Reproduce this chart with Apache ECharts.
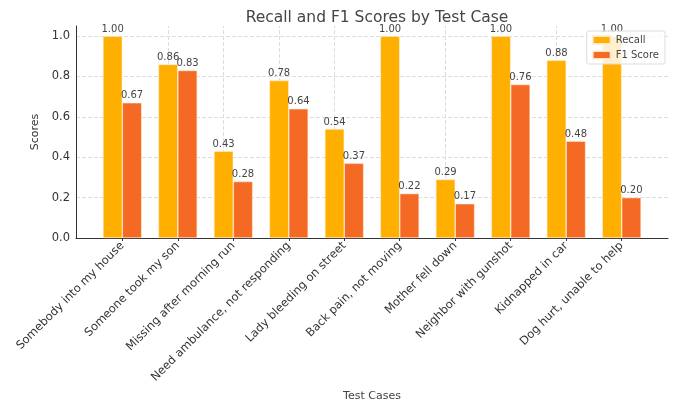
<!DOCTYPE html>
<html>
<head>
<meta charset="utf-8">
<script src="https://cdn.jsdelivr.net/npm/echarts@6/dist/echarts.min.js"></script>
<style>
  html, body { margin: 0; padding: 0; background: #fff; }
  #chart { width: 689px; height: 400px; }
</style>
</head>
<body>
<div id="chart"></div>
<script>
const categories = ['Somebody into my house', 'Someone took my son', 'Missing after morning run',
  'Need ambulance, not responding', 'Lady bleeding on street', 'Back pain, not moving',
  'Mother fell down', 'Neighbor with gunshot', 'Kidnapped in car', 'Dog hurt, unable to help']
const recall = [1.00, 0.86, 0.43, 0.78, 0.54, 1.00, 0.29, 1.00, 0.88, 1.00]
const f1 = [0.67, 0.83, 0.28, 0.64, 0.37, 0.22, 0.17, 0.76, 0.48, 0.20]
const yTicks = [0, 0.2, 0.4, 0.6, 0.8, 1.0]
const xTicks = categories.map((c, i) => i)

const font = 'DejaVu Sans'
const chart = echarts.init(document.getElementById('chart'))

const labelOpt = {
  show: true,
  position: 'top',
  distance: 2,
  color: '#444',
  fontSize: 10,
  fontFamily: font,
  formatter: p => p.value[1].toFixed(2),
}

chart.setOption({
  animation: false,
  title: {
    text: 'Recall and F1 Scores by Test Case',
    left: 372,
    textAlign: 'center',
    top: 5,
    textStyle: { fontFamily: font, fontSize: 15.5, fontWeight: 'normal', color: '#444' },
  },
  legend: {
    orient: 'vertical',
    right: 24,
    top: 31,
    itemWidth: 18,
    itemHeight: 8,
    itemGap: 5,
    padding: [4, 6, 4, 5],
    icon: 'rect',
    backgroundColor: 'rgba(255,255,255,0.8)',
    borderColor: '#ddd',
    borderWidth: 1,
    borderRadius: 2,
    textStyle: { fontFamily: font, fontSize: 10, color: '#444' },
    data: ['Recall', 'F1 Score'],
  },
  grid: { left: 76, right: 21, top: 26, bottom: 162, outerBoundsMode: 'none' },
  xAxis: {
    type: 'value',
    min: -0.835,
    max: 9.835,
    name: 'Test Cases',
    nameLocation: 'middle',
    nameGap: 148,
    nameTextStyle: { fontFamily: font, fontSize: 11, color: '#444' },
    axisLine: { lineStyle: { color: '#333', width: 1 } },
    axisTick: { show: true, length: 3, customValues: xTicks, lineStyle: { color: '#333' } },
    axisLabel: {
      customValues: xTicks,
      rotate: 45,
      margin: 6,
      fontFamily: font,
      fontSize: 11.5,
      color: '#333',
      formatter: v => categories[Math.round(v)],
    },
    splitLine: { show: false },
  },
  yAxis: {
    type: 'value',
    min: 0,
    max: 1.05,
    name: 'Scores',
    nameLocation: 'middle',
    nameGap: 22,
    nameTextStyle: { fontFamily: font, fontSize: 11, color: '#333' },
    axisLine: { show: true, onZero: false, lineStyle: { color: '#333', width: 1 } },
    axisTick: { show: false, customValues: yTicks },
    axisLabel: {
      customValues: yTicks,
      margin: 6,
      fontFamily: font,
      fontSize: 11.5,
      color: '#333',
      formatter: v => v.toFixed(1),
    },
    splitLine: { show: true, lineStyle: { color: '#ddd', type: 'dashed' } },
  },
  series: [
    {
      name: 'Recall',
      type: 'bar',
      barWidth: 19.4,
      barGap: '0%',
      data: recall.map((v, i) => [i, v]),
      itemStyle: { color: '#FFAF00', borderColor: 'rgba(255,240,220,0.9)', borderWidth: 0.6 },
      label: labelOpt,
      // vertical grid lines at each category centre
      markLine: {
        silent: true,
        z: 0,
        symbol: 'none',
        label: { show: false },
        lineStyle: { color: '#ddd', type: 'dashed', width: 1 },
        data: xTicks.map(i => ({ xAxis: i })),
      },
    },
    {
      name: 'F1 Score',
      type: 'bar',
      barWidth: 19.4,
      barGap: '0%',
      data: f1.map((v, i) => [i, v]),
      itemStyle: { color: '#F46A24', borderColor: 'rgba(255,240,220,0.9)', borderWidth: 0.6 },
      label: labelOpt,
    },
  ],
})
</script>
</body>
</html>
